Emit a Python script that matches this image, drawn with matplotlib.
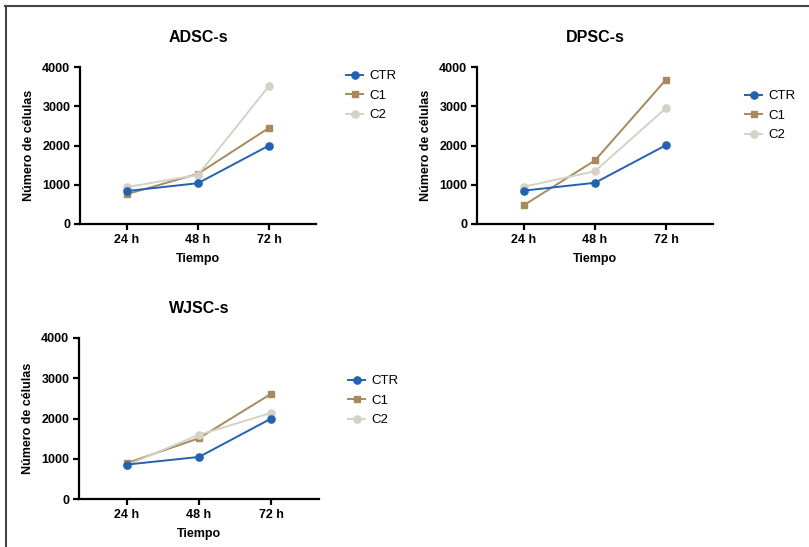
import matplotlib
matplotlib.use("Agg")
import matplotlib.pyplot as plt
from matplotlib.lines import Line2D

plt.rcParams['font.family'] = ['Liberation Sans', 'DejaVu Sans']

times = ["24 h", "48 h", "72 h"]
series_names = ["CTR", "C1", "C2"]

adsc_ctr = [840, 1040, 2000]
adsc_c1 = [760, 1280, 2450]
adsc_c2 = [940, 1250, 3520]

dpsc_ctr = [850, 1050, 2010]
dpsc_c1 = [480, 1620, 3680]
dpsc_c2 = [950, 1345, 2955]

wjsc_ctr = [855, 1045, 2000]
wjsc_c1 = [890, 1510, 2615]
wjsc_c2 = [840, 1595, 2140]

yticks = [0, 1000, 2000, 3000, 4000]

colors = {"CTR": "#2461b0", "C1": "#a8895c", "C2": "#d4d1c6"}
markers = {"CTR": "o", "C1": "s", "C2": "o"}

W, H = 809, 547
fig = plt.figure(figsize=(W / 100, H / 100), dpi=100)

panels = [
    ("ADSC-s", [adsc_ctr, adsc_c1, adsc_c2], (80, 67, 316, 224), (346, 70)),
    ("DPSC-s", [dpsc_ctr, dpsc_c1, dpsc_c2], (477, 67, 713, 224), (745, 90)),
    ("WJSC-s", [wjsc_ctr, wjsc_c1, wjsc_c2], (79, 338, 319, 499), (348, 375)),
]

for title, data, (l, t, r, b), (lx, ly) in panels:
    ax = fig.add_axes([l / W, 1 - b / H, (r - l) / W, (b - t) / H])
    x = list(range(len(times)))
    handles = []
    for name, vals in zip(series_names, data):
        h, = ax.plot(x, vals, color=colors[name], marker=markers[name],
                     markersize=5.2 if markers[name] == "o" else 5,
                     linewidth=1.4, label=name, zorder=3 if name == "CTR" else 2)
        handles.append(h)
    ax.set_xlim(-0.66, 2.66)
    ax.set_ylim(0, 4000)
    ax.set_xticks(x)
    ax.set_xticklabels(times, fontweight='bold', fontsize=9)
    ax.set_yticks(yticks)
    ax.set_yticklabels([str(v) for v in yticks], fontweight='bold', fontsize=9)
    for s in ["top", "right"]:
        ax.spines[s].set_visible(False)
    for s in ["left", "bottom"]:
        ax.spines[s].set_linewidth(1.6)
    ax.tick_params(width=1.6, length=4, pad=3)
    ax.set_title(title, fontweight='bold', fontsize=11.5, pad=18)
    ax.set_xlabel("Tiempo", fontweight='bold', fontsize=9, labelpad=5)
    ax.set_ylabel("Número de células", fontweight='bold', fontsize=9, labelpad=5)
    ax.legend(handles=handles, loc='upper left', bbox_to_anchor=(lx / W, 1 - ly / H),
              bbox_transform=fig.transFigure, frameon=False, fontsize=9.5,
              handlelength=1.3, handletextpad=0.5, labelspacing=0.55,
              borderpad=0, borderaxespad=0)

fig.add_artist(Line2D([5 / W, 1], [1 - 5.5 / H, 1 - 5.5 / H], color="#444444", linewidth=1.5))
fig.add_artist(Line2D([5.5 / W, 5.5 / W], [0, 1 - 5.5 / H], color="#444444", linewidth=1.5))

fig.savefig("out.png", dpi=100)
